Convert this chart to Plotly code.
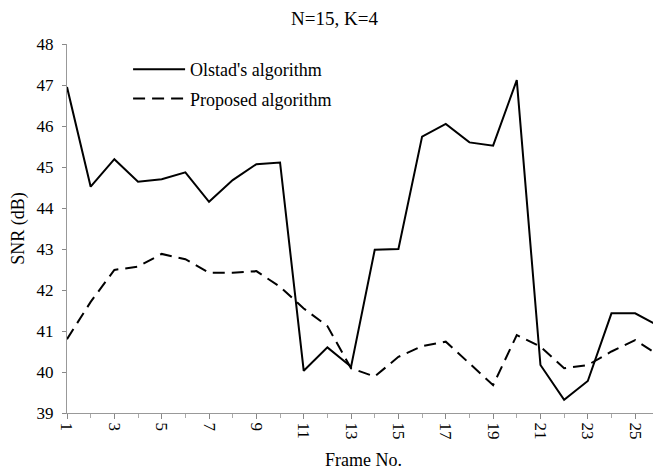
import plotly.graph_objects as go

frames = list(range(1, 27))
olstad = [46.95, 44.52, 45.19, 44.64, 44.70, 44.87, 44.15, 44.68, 45.07, 45.11,
          40.03, 40.60, 40.13, 42.98, 43.00, 45.74, 46.05, 45.60, 45.52, 47.12,
          40.17, 39.32, 39.78, 41.43, 41.43, 41.12]
proposed = [40.80, 41.71, 42.49, 42.57, 42.88, 42.75, 42.42, 42.42, 42.46, 42.08,
            41.55, 41.12, 40.09, 39.89, 40.37, 40.63, 40.74, 40.21, 39.68, 40.90,
            40.62, 40.09, 40.17, 40.50, 40.78, 40.41]
x_ticks = list(range(1, 26, 2))
y_ticks = list(range(39, 49))

font = "Liberation Serif, Times New Roman, serif"

fig = go.Figure()
fig.add_trace(go.Scatter(x=frames, y=olstad, mode="lines", name="Olstad's algorithm",
                         legendgroup="a",
                         line=dict(color="black", width=2)))
fig.add_trace(go.Scatter(x=frames, y=proposed, mode="lines", name="Proposed algorithm",
                         legendgroup="b",
                         line=dict(color="black", width=2, dash="12px,7px")))

fig.update_layout(
    width=653, height=463,
    margin=dict(l=59, r=1, t=36, b=58),
    paper_bgcolor="white", plot_bgcolor="white",
    font=dict(family=font, size=17, color="black"),
    title=dict(text="N=15, K=4", x=0.5, xanchor="center", y=0.993, yanchor="top",
               pad=dict(t=0, b=0),
               font=dict(family=font, size=19, color="black")),
    showlegend=True,
    legend=dict(x=0.103, y=0.981, xanchor="left", yanchor="top",
                bgcolor="rgba(0,0,0,0)", font=dict(family=font, size=18),
                tracegroupgap=3, itemwidth=52),
    xaxis=dict(range=[1, 26.05], tickvals=x_ticks, tickangle=90, automargin=False,
               showgrid=False, zeroline=False,
               showline=True, linecolor="#999", linewidth=1,
               ticks="outside", ticklen=5, tickcolor="#888",
               tickfont=dict(family=font, size=17),
               minor=dict(dtick=1, tick0=1, ticks="outside", ticklen=4, tickcolor="#aaa"),
               title=dict(text="Frame No.", standoff=14, font=dict(family=font, size=18))),
    yaxis=dict(range=[39, 48], tickvals=y_ticks, showgrid=False, zeroline=False,
               automargin=False,
               showline=True, linecolor="#999", linewidth=1,
               ticks="outside", ticklen=4, tickcolor="#888", ticklabelstandoff=5,
               tickfont=dict(family=font, size=17),
               title=dict(text="SNR (dB)", standoff=10, font=dict(family=font, size=18))),
)

fig.write_html("out.html")
